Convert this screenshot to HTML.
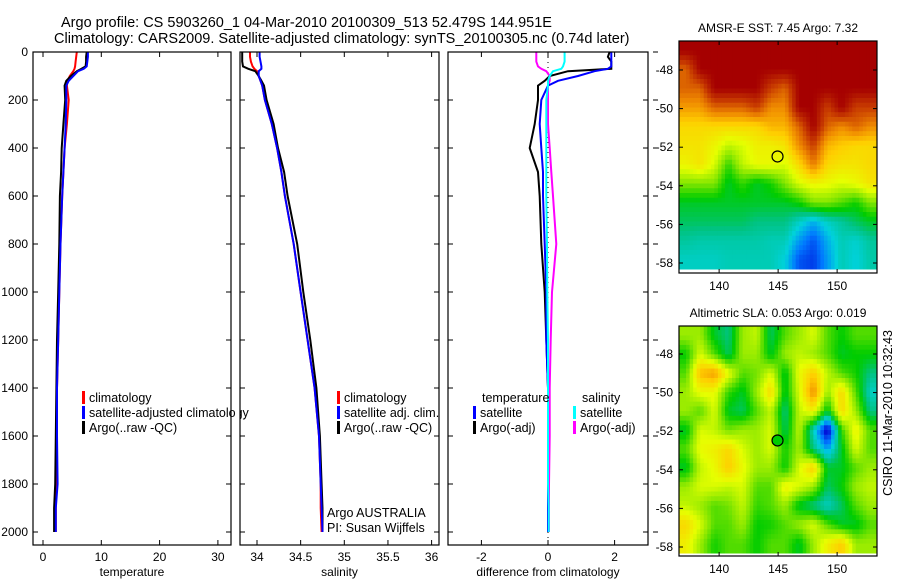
<!DOCTYPE html>
<html><head><meta charset="utf-8"><style>
body{margin:0;background:#fff;width:900px;height:580px;overflow:hidden}
svg{display:block;font-family:"Liberation Sans",sans-serif}
</style></head><body>
<svg id="chart" width="900" height="580"></svg>
<script>
const depths=[0,20,40,60,70,80,100,120,140,200,300,400,500,600,800,1000,1200,1400,1600,1800,1900,2000];
const tempClim=[5.8,5.7,5.6,5.5,5.4,5.2,4.6,4.2,4.1,4.4,4.1,3.7,3.5,3.3,3.0,2.8,2.6,2.4,2.3,2.25,2.2,2.2];
const tempSat=[7.7,7.7,7.6,7.5,7.0,6.0,5.2,4.4,4.0,4.0,3.9,3.7,3.5,3.3,3.0,2.8,2.6,2.4,2.4,2.5,2.2,2.2];
const tempArgo=[7.5,7.4,7.4,7.3,6.6,5.8,4.8,4.0,3.7,3.8,3.5,3.2,3.1,2.9,2.8,2.6,2.4,2.3,2.2,2.1,1.9,1.9];
const salClim=[33.92,33.92,33.93,33.95,33.97,34.0,34.02,34.04,34.06,34.09,34.17,34.23,34.28,34.32,34.42,34.5,34.58,34.66,34.71,34.73,34.73,34.74];
const salSat=[34.03,34.03,34.04,34.05,34.05,34.02,34.02,34.04,34.06,34.09,34.17,34.23,34.28,34.32,34.42,34.5,34.58,34.66,34.71,34.73,34.74,34.75];
const salArgo=[33.83,33.83,33.83,33.84,33.9,33.98,34.02,34.05,34.08,34.11,34.19,34.24,34.31,34.35,34.46,34.53,34.61,34.68,34.72,34.74,34.75,34.75];
const diffTempSat=[1.9,1.9,1.9,1.9,1.8,1.4,0.9,0.3,0.0,-0.2,-0.25,-0.2,-0.15,-0.15,-0.1,-0.05,-0.05,0,0,0,0,0];
const diffTempArgo=[1.85,1.8,1.9,1.9,1.9,0.6,0.05,-0.1,-0.3,-0.3,-0.4,-0.55,-0.3,-0.25,-0.2,-0.1,-0.05,0,0,0,0,0];
const diffSalSat=[0.5,0.5,0.5,0.45,0.4,0.15,0.05,0.0,0.0,-0.05,-0.05,-0.05,-0.05,-0.05,-0.03,-0.02,0,0,0,0,0.02,0.02];
const diffSalArgo=[-0.35,-0.35,-0.35,-0.3,-0.2,-0.05,0.05,0.05,0.0,0.0,0.0,0.05,0.1,0.15,0.25,0.12,0.08,0.05,0.05,0.03,0.03,0.03];
const depthTicks=[0,200,400,600,800,1000,1200,1400,1600,1800,2000];
const tempTicks=[0,10,20,30];
const salTicks=[34,34.5,35,35.5,36];
const diffTicks=[-2,0,2];
const lonTicks=[140,145,150];
const latTicks=[-48,-50,-52,-54,-56,-58];
const sstGrid=[
[1,1,1,1,1,1,1,1,1,1,1,1,1,1],
[0.85,1,1,1,1,1,1,1,1,1,1,1,1,1],
[0.85,0.85,1,1,1,1,0.9,0.85,1,1,1,1,1,1],
[0.78,0.78,0.85,0.85,0.85,0.9,0.8,0.8,1,1,0.9,1,0.9,0.9],
[0.7,0.7,0.7,0.7,0.7,0.7,0.75,0.75,0.85,1,0.85,0.8,0.85,0.8],
[0.68,0.68,0.65,0.6,0.62,0.66,0.66,0.68,0.8,0.9,0.75,0.72,0.7,0.7],
[0.65,0.68,0.62,0.5,0.6,0.64,0.64,0.62,0.7,0.82,0.7,0.68,0.68,0.7],
[0.55,0.55,0.55,0.45,0.5,0.45,0.48,0.55,0.62,0.65,0.64,0.62,0.64,0.68],
[0.45,0.45,0.45,0.45,0.45,0.45,0.45,0.45,0.48,0.55,0.55,0.52,0.48,0.55],
[0.42,0.42,0.42,0.42,0.42,0.4,0.4,0.4,0.35,0.3,0.35,0.38,0.42,0.45],
[0.38,0.37,0.37,0.37,0.37,0.37,0.36,0.36,0.28,0.22,0.3,0.36,0.34,0.38],
[0.35,0.35,0.35,0.36,0.36,0.36,0.36,0.33,0.22,0.2,0.28,0.36,0.33,0.37]];
const slaGrid=[
[0.57,0.57,0.45,0.4,0.57,0.6,0.42,0.52,0.57,0.62,0.52,0.47,0.52,0.52],
[0.47,0.62,0.52,0.42,0.57,0.57,0.45,0.57,0.6,0.57,0.52,0.45,0.47,0.47],
[0.52,0.74,0.78,0.64,0.52,0.54,0.62,0.45,0.64,0.72,0.6,0.52,0.48,0.4],
[0.57,0.64,0.64,0.5,0.45,0.57,0.7,0.45,0.62,0.8,0.57,0.7,0.52,0.35],
[0.57,0.52,0.62,0.45,0.42,0.52,0.6,0.4,0.6,0.66,0.45,0.7,0.57,0.4],
[0.45,0.62,0.6,0.54,0.57,0.57,0.62,0.42,0.6,0.35,0.12,0.5,0.66,0.52],
[0.52,0.64,0.66,0.7,0.62,0.57,0.62,0.48,0.57,0.4,0.28,0.45,0.62,0.52],
[0.45,0.6,0.64,0.72,0.64,0.57,0.57,0.47,0.62,0.72,0.45,0.45,0.52,0.57],
[0.57,0.62,0.62,0.6,0.62,0.52,0.52,0.66,0.62,0.57,0.42,0.47,0.57,0.6],
[0.6,0.57,0.52,0.54,0.6,0.5,0.52,0.57,0.45,0.4,0.35,0.42,0.52,0.57],
[0.7,0.62,0.52,0.52,0.57,0.47,0.48,0.52,0.57,0.62,0.52,0.45,0.45,0.52],
[0.66,0.57,0.48,0.52,0.52,0.47,0.52,0.52,0.45,0.57,0.66,0.72,0.57,0.57]];

const NS='http://www.w3.org/2000/svg';
const svg=document.getElementById('chart');
function mk(tag,attrs,parent){const e=document.createElementNS(NS,tag);for(const k in attrs)e.setAttribute(k,attrs[k]);(parent||svg).appendChild(e);return e;}
function txt(s,x,y,size,anchor,parent){const t=mk('text',{x:x,y:y,'font-size':size,'text-anchor':anchor||'start',fill:'#000'},parent);t.textContent=s;return t;}
const yD=d=>52+d*0.24;
const xT=v=>43+v*5.83;
const xS=v=>257+(v-34)*87.3;
const xDf=v=>548+v*33.3;

let t=txt('Argo profile: CS 5903260_1 04-Mar-2010 20100309_513 52.479S 144.951E',61,27,14.5);

t=txt('Climatology: CARS2009. Satellite-adjusted climatology: synTS_20100305.nc (0.74d later)',54,43,14.5);


function panel(name,x0,x1,xf,ticks,fmt,label,series,leftLabels){
  const g=mk('g',{});
  
  
  const cid='clip-'+name;
  const cp=mk('clipPath',{id:cid},g);mk('rect',{x:x0,y:52,width:x1-x0,height:493},cp);
  const sg=mk('g',{'clip-path':'url(#'+cid+')'},g);
  series.forEach(s=>{
    const pts=depths.map((d,i)=>xf(s.v[i]).toFixed(1)+','+yD(d).toFixed(1)).join(' ');
    const p=mk('polyline',{points:pts,fill:'none',stroke:s.c,'stroke-width':s.w||2},sg);
    
    
  });
  mk('rect',{x:x0,y:52,width:x1-x0,height:493,fill:'none',stroke:'#000','stroke-width':1.2},g);
  ticks.forEach(v=>{
    const x=xf(v);
    mk('line',{x1:x,x2:x,y1:545,y2:540,stroke:'#000'},g);
    mk('line',{x1:x,x2:x,y1:52,y2:57,stroke:'#000'},g);
    const l=txt(fmt(v),x,561,12,'middle',g);
    
    
  });
  depthTicks.forEach(d=>{
    mk('line',{x1:x0,x2:x0+5,y1:yD(d),y2:yD(d),stroke:'#000'},g);
    mk('line',{x1:x1,x2:x1-5,y1:yD(d),y2:yD(d),stroke:'#000'},g);
    if(leftLabels){const l=txt(String(d),28,yD(d)+4,12,'end',g);
      
      }
  });
  const al=txt(label,(x0+x1)/2,576,12,'middle',g);
  
  
  return g;
}
panel('temperature',33,231,xT,tempTicks,String,'temperature',[
 {v:tempClim,c:'#f00',n:'temp-climatology-line'},
 {v:tempArgo,c:'#000',n:'temp-argo-line'},
 {v:tempSat,c:'#00f',n:'temp-satellite-line'}],true);
function legend(x,y,items){
  const g=mk('g',{});
  
  
  items.forEach((it,i)=>{
    mk('rect',{x:x,y:y+i*15-11,width:3,height:13,fill:it[1]},g);
    const e=txt(it[0],x+7,y+i*15,12.5,'start',g);
    
    
  });
  return g;
}
legend(82,402,[['climatology','#f00'],['satellite-adjusted climatology','#00f'],['Argo(..raw -QC)','#000']]);
mk('rect',{x:236,y:380,width:4,height:60,fill:'#fff'});
panel('salinity',240,439,xS,salTicks,String,'salinity',[
 {v:salClim,c:'#f00',n:'sal-climatology-line'},
 {v:salArgo,c:'#000',n:'sal-argo-line'},
 {v:salSat,c:'#00f',n:'sal-satellite-line'}],false);
legend(337,402,[['climatology','#f00'],['satellite adj. clim.','#00f'],['Argo(..raw -QC)','#000']]);
t=txt('Argo AUSTRALIA',327,517,12.5);
t=txt('PI: Susan Wijffels',327,532,12.5);
mk('line',{x1:xDf(0),x2:xDf(0),y1:52,y2:545,stroke:'#000','stroke-dasharray':'1,4'});
panel('difference',448,648,xDf,diffTicks,String,'difference from climatology',[
 {v:diffSalArgo,c:'#f0f',n:'diff-sal-argo-line'},
 {v:diffTempArgo,c:'#000',n:'diff-temp-argo-line'},
 {v:diffTempSat,c:'#00f',n:'diff-temp-satellite-line'},
 {v:diffSalSat,c:'#0ff',n:'diff-sal-satellite-line'}],false);
t=txt('temperature',482,402,12.5);
t=txt('salinity',582,402,12.5);
legend(473,417,[['satellite','#00f'],['Argo(-adj)','#000']]);
legend(573,417,[['satellite','#0ff'],['Argo(-adj)','#f0f']]);
depthTicks.forEach(d=>mk('line',{x1:653,x2:658,y1:yD(d),y2:yD(d),stroke:'#000'}));

const stops=[[0,[0,0,130]],[0.15,[0,0,210]],[0.25,[0,120,255]],[0.33,[0,210,220]],[0.4,[0,195,130]],[0.47,[0,204,0]],[0.55,[130,230,0]],[0.63,[230,255,0]],[0.72,[255,205,0]],[0.8,[240,140,0]],[0.9,[200,60,0]],[1,[165,0,0]]];
function cmap(v){for(let i=1;i<stops.length;i++){if(v<=stops[i][0]){const a=stops[i-1],b=stops[i],f=(v-a[0])/(b[0]-a[0]);return 'rgb('+a[1].map((c,k)=>Math.round(c+(b[1][k]-c)*f)).join(',')+')';}}return 'rgb(165,0,0)';}
function sample(grid,fr,fc){
  const R=grid.length,C=grid[0].length;
  const r=Math.min(Math.max(fr,0),R-1),c=Math.min(Math.max(fc,0),C-1);
  const r0=Math.floor(r),c0=Math.floor(c),r1=Math.min(r0+1,R-1),c1=Math.min(c0+1,C-1);
  const a=r-r0,b=c-c0;
  return grid[r0][c0]*(1-a)*(1-b)+grid[r0][c1]*(1-a)*b+grid[r1][c0]*a*(1-b)+grid[r1][c1]*a*b;
}
function map(name,title,grid,x0,y0,w,h,dataH,lat48,latStep,dotFill){
  const g=mk('g',{});
  
  
  const tt=txt(title,(x0+x0+w)/2,y0-9,12,'middle',g);
  
  
  const hg=mk('g',{},g);
  const rows=grid.length,cols=grid[0].length,S=4;
  const cw=w/(cols*S),ch=dataH/(rows*S);
  for(let r=0;r<rows*S;r++)for(let c=0;c<cols*S;c++){
    const v=sample(grid,(r+0.5)/S-0.5,(c+0.5)/S-0.5);
    const cell=mk('rect',{x:(x0+c*cw).toFixed(2),y:(y0+r*ch).toFixed(2),width:(cw+0.5).toFixed(2),height:(ch+0.5).toFixed(2),fill:cmap(v)},hg);
    
    
  }
  mk('rect',{x:x0,y:y0,width:w,height:h,fill:'none',stroke:'#000','stroke-width':1.2},g);
  const xL=lon=>x0+(lon-136.6)*11.8;
  lonTicks.forEach(lon=>{
    const x=xL(lon);
    mk('line',{x1:x,x2:x,y1:y0,y2:y0+4,stroke:'#000'},g);
    mk('line',{x1:x,x2:x,y1:y0+h,y2:y0+h-4,stroke:'#000'},g);
    const l=txt(String(lon),x,y0+h+17,12,'middle',g);
    
    
  });
  latTicks.forEach(lat=>{
    const y=lat48+(-48-lat)*latStep;
    mk('line',{x1:x0,x2:x0+4,y1:y,y2:y,stroke:'#000'},g);
    mk('line',{x1:x0+w,x2:x0+w-4,y1:y,y2:y,stroke:'#000'},g);
    const l=txt(String(lat),x0-6,y+4,12,'end',g);
    
    
  });
  const c=mk('circle',{cx:xL(144.95),cy:lat48+(52.48-48)*latStep,r:5.5,fill:dotFill,stroke:'#000','stroke-width':1.2},g);
  
  
}
map('sst-map','AMSR-E SST: 7.45 Argo: 7.32',sstGrid,679,41,198,232,228,70,19.3,'none');
map('sla-map','Altimetric SLA: 0.053 Argo: 0.019',slaGrid,679,326,198,230,227,354,19.3,'#0c0');
t=txt('CSIRO 11-Mar-2010 10:32:43',0,0,12.5,'middle');
t.setAttribute('transform','translate(892,413) rotate(-90)');


</script>
</body></html>
